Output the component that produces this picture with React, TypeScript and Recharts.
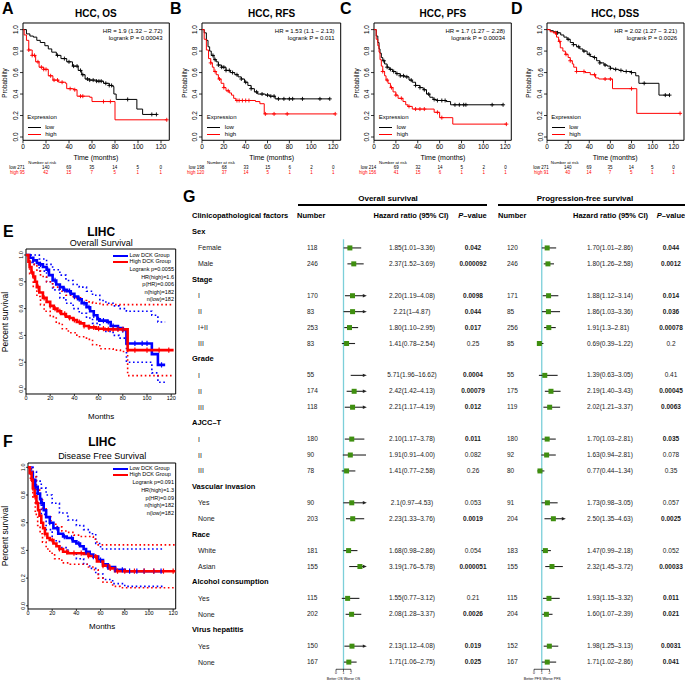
import React from "react";
import {
  ComposedChart,
  Line,
  ReferenceArea,
  ReferenceLine,
  Scatter,
  XAxis,
  YAxis,
} from "recharts";

const FONT = "'Liberation Sans', Arial, Helvetica, sans-serif";

// ---------- Kaplan-Meier curves, panels A-D: [months, probability] ----------
const kmOsLow = [[0, 1], [3, 0.96], [6, 0.94], [9, 0.93], [12, 0.9], [15, 0.88], [19, 0.85], [22, 0.82], [25, 0.79], [29, 0.76], [33, 0.73], [38, 0.7], [43, 0.66], [48, 0.62], [51, 0.58], [54, 0.54], [58, 0.53], [64, 0.52], [70, 0.5], [75, 0.48], [78, 0.47], [79, 0.4], [81, 0.35], [99, 0.26], [104, 0.21], [116, 0.21]];
const kmOsHigh = [[0, 1], [1, 0.95], [3, 0.9], [5, 0.81], [8, 0.76], [11, 0.7], [14, 0.65], [18, 0.63], [22, 0.57], [26, 0.53], [31, 0.51], [37, 0.5], [38, 0.45], [44, 0.44], [47, 0.38], [58, 0.37], [60, 0.33], [80, 0.16], [125, 0.16]];
const kmRfsLow = [[0, 1], [2, 0.97], [4, 0.9], [5.5, 0.84], [7, 0.8], [8.5, 0.76], [11, 0.72], [13, 0.7], [15, 0.67], [18, 0.65], [22, 0.62], [26, 0.6], [30, 0.58], [33, 0.56], [36, 0.54], [39, 0.51], [42, 0.48], [45, 0.45], [48, 0.42], [51, 0.4], [58, 0.39], [62, 0.38], [67, 0.355], [117, 0.355]];
const kmRfsHigh = [[0, 1], [2, 0.91], [4, 0.81], [6, 0.73], [8, 0.69], [9.5, 0.65], [11, 0.61], [13, 0.58], [15, 0.54], [17.5, 0.5], [20, 0.46], [22, 0.43], [25, 0.41], [27, 0.39], [29, 0.36], [31, 0.34], [49, 0.33], [53, 0.31], [57, 0.215], [122, 0.215]];
const kmPfsLow = [[0, 1], [2, 0.94], [3.5, 0.88], [4.6, 0.82], [5.5, 0.78], [6.7, 0.74], [8, 0.71], [9.7, 0.68], [12, 0.65], [14, 0.63], [17, 0.61], [20, 0.59], [24, 0.57], [28, 0.56], [32, 0.53], [35, 0.51], [38, 0.48], [42, 0.46], [45, 0.44], [48, 0.4], [51, 0.37], [54, 0.35], [57, 0.34], [66, 0.33], [70, 0.3], [118, 0.3]];
const kmPfsHigh = [[0, 1], [2, 0.91], [3.5, 0.85], [4.6, 0.79], [5.5, 0.72], [6.7, 0.66], [8, 0.61], [9.7, 0.57], [11, 0.53], [12.8, 0.5], [15, 0.46], [17.4, 0.42], [20, 0.39], [22, 0.36], [26.5, 0.33], [29, 0.3], [31, 0.285], [35, 0.26], [55, 0.23], [60, 0.18], [72, 0.12], [121, 0.12]];
const kmDssLow = [[0, 1], [3, 0.99], [6, 0.98], [10, 0.97], [13, 0.95], [16, 0.93], [19, 0.91], [22, 0.88], [25, 0.86], [28, 0.84], [31, 0.82], [34, 0.8], [38, 0.77], [41, 0.75], [44, 0.74], [47, 0.71], [50, 0.69], [54, 0.67], [57, 0.66], [60, 0.64], [63, 0.63], [68, 0.62], [72, 0.61], [80, 0.6], [84, 0.57], [87, 0.5], [106, 0.39], [116, 0.39]];
const kmDssHigh = [[0, 1], [3, 0.98], [6, 0.97], [9, 0.93], [11, 0.89], [12.6, 0.83], [15, 0.8], [17.4, 0.77], [20, 0.74], [22, 0.71], [24, 0.68], [25.3, 0.65], [28, 0.61], [36, 0.6], [41, 0.58], [46, 0.55], [49, 0.54], [62, 0.45], [85, 0.22], [126, 0.22]];

// censoring times (months)
const cenOsLow = [30, 36, 40, 44, 47, 50, 52, 56, 58, 61, 64, 66, 68, 72, 75, 77, 91, 112, 116];
const cenOsHigh = [5, 8, 10, 13, 16, 18, 20, 24, 27, 30, 34, 41, 45, 50, 52, 70, 76, 125];
const cenRfsLow = [10, 12, 15, 18, 20, 22, 25, 28, 32, 36, 40, 45, 50, 55, 60, 63, 66, 70, 75, 80, 83, 92, 108, 117];
const cenRfsHigh = [8, 12, 16, 20, 24, 32, 34, 37, 40, 43, 58, 66, 78, 122];
const cenPfsLow = [9, 12, 15, 18, 21, 24, 27, 30, 34, 38, 42, 46, 50, 55, 58, 62, 65, 74, 78, 82, 84, 108, 118];
const cenPfsHigh = [8, 12, 16, 20, 25, 32, 38, 42, 46, 58, 62, 121];
const cenDssLow = [10, 20, 25, 30, 35, 40, 45, 50, 55, 60, 65, 70, 75, 80, 92, 112, 116];
const cenDssHigh = [8, 12, 18, 22, 28, 35, 45, 55, 60, 80, 126];

// number at risk at 0, 20, ..., 120 months
const riskOsLow = [271, 140, 69, 35, 14, 5, 0];
const riskOsHigh = [95, 42, 15, 7, 5, 1, 1];
const riskRfsLow = [198, 68, 33, 15, 6, 2, 0];
const riskRfsHigh = [120, 37, 14, 5, 1, 1, 1];
const riskPfsLow = [214, 69, 32, 14, 5, 2, 0];
const riskPfsHigh = [156, 41, 15, 6, 1, 1, 1];
const riskDssLow = [271, 140, 69, 35, 14, 5, 0];
const riskDssHigh = [91, 40, 14, 7, 5, 1, 1];

// ---------- GEPIA curves, panels E and F ----------
const eLow = [[0, 1], [3, 0.98], [6, 0.96], [9, 0.94], [11, 0.93], [14, 0.91], [17, 0.89], [19, 0.85], [22, 0.81], [25, 0.78], [28, 0.76], [31, 0.74], [34, 0.73], [37, 0.71], [40, 0.69], [43, 0.67], [46, 0.64], [50, 0.61], [53, 0.58], [56, 0.55], [59, 0.52], [61, 0.51], [67, 0.5], [70, 0.47], [76, 0.455], [80, 0.44], [83, 0.34], [104, 0.26], [109, 0.18], [115, 0.18]];
const eLowUp = [[0, 1], [5, 1], [11, 0.97], [17, 0.93], [22, 0.89], [28, 0.85], [33, 0.81], [39, 0.78], [44, 0.76], [50, 0.73], [55, 0.7], [61, 0.66], [66, 0.64], [72, 0.62], [77, 0.6], [83, 0.58], [104, 0.55], [109, 0.5], [115, 0.5]];
const eLowLo = [[0, 1], [5, 0.93], [11, 0.88], [17, 0.8], [22, 0.74], [28, 0.68], [33, 0.64], [39, 0.6], [44, 0.565], [50, 0.53], [55, 0.49], [61, 0.45], [66, 0.43], [72, 0.4], [77, 0.38], [83, 0.2], [104, 0.12], [109, 0.05], [115, 0.05]];
const eHigh = [[0, 1], [2, 0.95], [3, 0.91], [4.5, 0.87], [6, 0.84], [7.5, 0.8], [9, 0.76], [11, 0.72], [14, 0.68], [17, 0.65], [20, 0.62], [23, 0.6], [26, 0.58], [29, 0.56], [33, 0.54], [36, 0.53], [39, 0.515], [42, 0.5], [45, 0.49], [48, 0.47], [52, 0.46], [58, 0.45], [65, 0.445], [84, 0.29], [122, 0.29]];
const eHighUp = [[0, 1], [3, 0.98], [6, 0.93], [9, 0.88], [12, 0.84], [17, 0.8], [22, 0.76], [28, 0.73], [33, 0.7], [39, 0.68], [45, 0.66], [50, 0.65], [55, 0.64], [61, 0.63], [122, 0.63]];
const eHighLo = [[0, 1], [3, 0.86], [6, 0.76], [9, 0.69], [12, 0.63], [15, 0.58], [20, 0.54], [25, 0.49], [30, 0.45], [35, 0.42], [42, 0.39], [50, 0.37], [55, 0.33], [61, 0.3], [72, 0.29], [78, 0.28], [84, 0.1], [122, 0.1]];
const fLow = [[0, 1], [2, 0.96], [4, 0.91], [6, 0.86], [8, 0.81], [10, 0.77], [11, 0.74], [13, 0.69], [15, 0.64], [18, 0.6], [21, 0.56], [25, 0.52], [29, 0.5], [32, 0.49], [37, 0.465], [40, 0.45], [43, 0.43], [46, 0.41], [48, 0.39], [51, 0.37], [54, 0.355], [58, 0.33], [62, 0.3], [66, 0.28], [72, 0.26], [80, 0.25], [112, 0.25]];
const fLowUp = [[0, 1], [4, 0.97], [7, 0.9], [11, 0.85], [15, 0.8], [20, 0.74], [26, 0.67], [33, 0.62], [40, 0.58], [46, 0.55], [51, 0.52], [56, 0.45], [60, 0.41], [112, 0.41]];
const fLowLo = [[0, 1], [4, 0.84], [7, 0.74], [11, 0.66], [15, 0.55], [20, 0.47], [26, 0.42], [33, 0.38], [40, 0.34], [46, 0.3], [51, 0.27], [56, 0.23], [62, 0.19], [70, 0.16], [80, 0.14], [112, 0.14]];
const fHigh = [[0, 1], [1.5, 0.96], [3, 0.91], [4, 0.85], [5.5, 0.79], [7, 0.74], [8.3, 0.69], [9.5, 0.65], [11, 0.6], [12.5, 0.56], [14, 0.52], [16, 0.49], [18, 0.475], [21, 0.45], [23.5, 0.43], [26, 0.41], [29, 0.39], [33, 0.38], [46, 0.375], [50, 0.36], [54, 0.355], [57, 0.32], [62, 0.29], [67, 0.27], [72, 0.25], [122, 0.25]];
const fHighUp = [[0, 1], [2, 0.99], [4, 0.93], [7, 0.84], [9.6, 0.78], [12, 0.7], [15, 0.64], [19, 0.6], [23, 0.57], [28, 0.54], [32, 0.53], [38, 0.51], [43, 0.5], [54, 0.48], [57, 0.44], [122, 0.44]];
const fHighLo = [[0, 1], [2, 0.9], [4, 0.78], [6, 0.66], [8, 0.58], [10, 0.52], [12, 0.46], [15, 0.41], [18, 0.38], [22, 0.34], [28, 0.31], [35, 0.3], [45, 0.3], [50, 0.28], [55, 0.26], [58, 0.2], [62, 0.17], [70, 0.14], [76, 0.13], [122, 0.13]];

const cenELow = [6, 12, 18, 24, 28, 32, 36, 40, 44, 48, 52, 56, 60, 64, 68, 72, 76, 80, 90, 96, 100, 112];
const cenEHigh = [5, 10, 15, 20, 24, 28, 32, 36, 40, 44, 48, 52, 56, 60, 64, 68, 72, 76, 80, 90, 100, 110, 118];
const cenFLow = [6, 12, 18, 24, 30, 36, 42, 48, 54, 60, 66, 72, 78, 84, 90, 96, 104, 110];
const cenFHigh = [4, 8, 14, 20, 26, 32, 38, 44, 50, 56, 62, 68, 74, 80, 88, 96, 104, 112, 120];

// ---------- Table G ----------
const groupNames = ["Sex", "Stage", "Grade", "AJCC–T", "Vascular invasion", "Race", "Alcohol consumption", "Virus hepatitis"];
const subgroupNames = [
  ["Female", "Male"],
  ["I", "II", "I+II", "III"],
  ["I", "II", "III"],
  ["I", "II", "III"],
  ["Yes", "None"],
  ["White", "Asian"],
  ["Yes", "None"],
  ["Yes", "None"],
];
const osNumber = [118, 246, 170, 83, 253, 83, 55, 174, 118, 180, 90, 78, 90, 203, 181, 155, 115, 202, 150, 167];
const osHR = [1.85, 2.37, 2.2, 2.21, 1.8, 1.41, 5.71, 2.42, 2.21, 2.1, 1.91, 1.41, 2.1, 2.23, 1.68, 3.19, 1.55, 2.08, 2.13, 1.71];
const osLow = [1.01, 1.52, 1.19, 1, 1.1, 0.78, 1.96, 1.42, 1.17, 1.17, 0.91, 0.77, 0.97, 1.33, 0.98, 1.76, 0.77, 1.28, 1.12, 1.06];
const osHigh = [3.36, 3.69, 4.08, 4.87, 2.95, 2.54, 16.62, 4.13, 4.19, 3.78, 4.0, 2.58, 4.53, 3.76, 2.86, 5.78, 3.12, 3.37, 4.08, 2.75];
const osHRText = ["1.85(1.01–3.36)", "2.37(1.52–3.69)", "2.20(1.19–4.08)", "2.21(1–4.87)", "1.80(1.10–2.95)", "1.41(0.78–2.54)", "5.71(1.96–16.62)", "2.42(1.42–4.13)", "2.21(1.17–4.19)", "2.10(1.17–3.78)", "1.91(0.91–4.00)", "1.41(0.77–2.58)", "2.1(0.97–4.53)", "2.23(1.33–3.76)", "1.68(0.98–2.86)", "3.19(1.76–5.78)", "1.55(0.77–3.12)", "2.08(1.28–3.37)", "2.13(1.12–4.08)", "1.71(1.06–2.75)"];
const osP = ["0.042", "0.000092", "0.0098", "0.044", "0.017", "0.25", "0.0004", "0.00079", "0.012", "0.011", "0.082", "0.26", "0.053", "0.0019", "0.054", "0.000051", "0.21", "0.0026", "0.019", "0.025"];
const pfsNumber = [120, 246, 171, 85, 256, 85, 55, 175, 119, 180, 92, 80, 91, 204, 183, 155, 115, 204, 152, 167];
const pfsHR = [1.7, 1.8, 1.88, 1.86, 1.91, 0.69, 1.39, 2.19, 2.02, 1.7, 1.63, 0.77, 1.73, 2.5, 1.47, 2.32, 1.93, 1.6, 1.98, 1.71];
const pfsLow = [1.01, 1.26, 1.12, 1.03, 1.3, 0.39, 0.63, 1.4, 1.21, 1.03, 0.94, 0.44, 0.98, 1.35, 0.99, 1.45, 1.15, 1.07, 1.25, 1.02];
const pfsHigh = [2.86, 2.58, 3.14, 3.36, 2.81, 1.22, 3.05, 3.43, 3.37, 2.81, 2.81, 1.34, 3.05, 4.63, 2.18, 3.72, 3.32, 2.39, 3.13, 2.86];
const pfsHRText = ["1.70(1.01–2.86)", "1.80(1.26–2.58)", "1.88(1.12–3.14)", "1.86(1.03–3.36)", "1.91(1.3–2.81)", "0.69(0.39–1.22)", "1.39(0.63–3.05)", "2.19(1.40–3.43)", "2.02(1.21–3.37)", "1.70(1.03–2.81)", "1.63(0.94–2.81)", "0.77(0.44–1.34)", "1.73(0.98–3.05)", "2.50(1.35–4.63)", "1.47(0.99–2.18)", "2.32(1.45–3.72)", "1.93(1.15–3.32)", "1.60(1.07–2.39)", "1.98(1.25–3.13)", "1.71(1.02–2.86)"];
const pfsP = ["0.044", "0.0012", "0.014", "0.036", "0.00078", "0.2", "0.41", "0.00045", "0.0063", "0.035", "0.078", "0.35", "0.057", "0.0025", "0.052", "0.00033", "0.011", "0.021", "0.0031", "0.041"];

const kmXTicks = [0, 20, 40, 60, 80, 100, 120];
const kmYTicks = [0, 0.2, 0.4, 0.6, 0.8, 1];

// ---------- helpers ----------
type Curve = { pts: number[][]; color: string; width: number; dash?: string; censor?: number[] };

const toRows = (pts: number[][]) => pts.map(([t, s]) => ({ t, s }));

function survivalAt(pts: number[][], t: number) {
  let s = pts[0][1];
  for (const [pt, ps] of pts) if (pt <= t) s = ps;
  return s;
}

const plusMark = (color: string) => (p: any) => (
  <path d={`M${p.cx - 2},${p.cy}H${p.cx + 2}M${p.cx},${p.cy - 2}V${p.cy + 2}`} stroke={color} strokeWidth={0.9} fill="none" />
);
const tickMark = (color: string) => (p: any) => (
  <path d={`M${p.cx},${p.cy - 2.6}V${p.cy + 2.6}`} stroke={color} strokeWidth={1.2} fill="none" />
);

function RotatedTick(props: any) {
  const { x, y, payload, size } = props;
  return (
    <text x={x} y={y} transform={`rotate(-90 ${x} ${y})`} textAnchor="middle" fontSize={size} fontFamily={FONT} fill="#000">
      {Number(payload.value).toFixed(1)}
    </text>
  );
}

function Txt({ x, y, size, bold, italic, anchor = "start", rotate, color = "#000", children }: any) {
  const tx = anchor === "middle" ? "-50%" : anchor === "end" ? "-100%" : "0";
  return (
    <div
      style={{
        position: "absolute",
        left: x,
        top: y,
        fontSize: size,
        lineHeight: 1,
        fontWeight: bold ? 700 : 400,
        fontStyle: italic ? "italic" : "normal",
        color,
        whiteSpace: "nowrap",
        transform: rotate ? "translate(-50%, -50%) rotate(-90deg)" : `translate(${tx}, -50%)`,
      }}
    >
      {children}
    </div>
  );
}

function Swatch({ x, y, w, h, color }: any) {
  return <div style={{ position: "absolute", left: x, top: y - h / 2, width: w, height: h, background: color }} />;
}

function KmChart({ x, y, w, h, xMax, yMin, yMax, curves, mark, tickFont, tickLen, tickGap }: any) {
  const padL = 26, padT = 4, padR = 6, padB = 16, yAxisW = 14;
  return (
    <div style={{ position: "absolute", left: x - padL, top: y - padT }}>
      <ComposedChart
        width={w + padL + padR}
        height={h + padT + padB}
        margin={{ top: padT, right: padR, bottom: 0, left: padL - yAxisW }}
        style={{ fontFamily: FONT }}
      >
        <XAxis
          type="number"
          dataKey="t"
          domain={[0, xMax]}
          ticks={kmXTicks}
          interval={0}
          allowDataOverflow
          axisLine={false}
          tickLine={{ stroke: "#000", strokeWidth: 0.8 }}
          tickSize={tickLen}
          tickMargin={tickGap}
          height={padB}
          tick={{ fontSize: tickFont, fill: "#000", fontFamily: FONT }}
        />
        <YAxis
          type="number"
          dataKey="s"
          domain={[yMin, yMax]}
          ticks={kmYTicks}
          interval={0}
          allowDataOverflow
          axisLine={false}
          tickLine={{ stroke: "#000", strokeWidth: 0.8 }}
          tickSize={tickLen}
          tickMargin={tickGap}
          width={yAxisW}
          tick={(p: any) => <RotatedTick {...p} size={tickFont} />}
        />
        <ReferenceArea x1={0} x2={xMax} y1={yMin} y2={yMax} fill="none" stroke="#000" strokeWidth={1} ifOverflow="visible" />
        {curves.map((c: Curve, i: number) => (
          <Line
            key={`l${i}`}
            data={toRows(c.pts)}
            dataKey="s"
            type="stepAfter"
            stroke={c.color}
            strokeWidth={c.width}
            strokeDasharray={c.dash}
            dot={false}
            activeDot={false}
            isAnimationActive={false}
          />
        ))}
        {curves
          .filter((c: Curve) => c.censor)
          .map((c: Curve, i: number) => (
            <Scatter
              key={`c${i}`}
              data={c.censor!.map((t) => ({ t, s: survivalAt(c.pts, t) }))}
              dataKey="s"
              shape={mark === "plus" ? plusMark(c.color) : tickMark(c.color)}
              isAnimationActive={false}
            />
          ))}
      </ComposedChart>
    </div>
  );
}

// ---------- panels A-D ----------
const KM_TOP = 22.7;
const KM_H = 117.3;
const KM_YMIN = -0.0307;
const KM_YMAX = 1.0615;

const kmPanels = [
  { letter: "A", letterX: 2, title: "HCC, OS", x: 22.7, w: 146.3, xMax: 127.2, low: kmOsLow, high: kmOsHigh, cLow: cenOsLow, cHigh: cenOsHigh, hr: "HR = 1.9 (1.32 − 2.72)", p: "logrank P = 0.00043", rLow: riskOsLow, rHigh: riskOsHigh },
  { letter: "B", letterX: 170, title: "HCC, RFS", x: 202.3, w: 138.7, xMax: 127, low: kmRfsLow, high: kmRfsHigh, cLow: cenRfsLow, cHigh: cenRfsHigh, hr: "HR = 1.53 (1.1 − 2.13)", p: "logrank P = 0.011", rLow: riskRfsLow, rHigh: riskRfsHigh },
  { letter: "C", letterX: 340, title: "HCC, PFS", x: 374.3, w: 137.3, xMax: 125.5, low: kmPfsLow, high: kmPfsHigh, cLow: cenPfsLow, cHigh: cenPfsHigh, hr: "HR = 1.7 (1.27 − 2.28)", p: "logrank P = 0.00034", rLow: riskPfsLow, rHigh: riskPfsHigh },
  { letter: "D", letterX: 511, title: "HCC, DSS", x: 546.7, w: 137, xMax: 129.7, low: kmDssLow, high: kmDssHigh, cLow: cenDssLow, cHigh: cenDssHigh, hr: "HR = 2.02 (1.27 − 3.21)", p: "logrank P = 0.0026", rLow: riskDssLow, rHigh: riskDssHigh },
];

function KmPanel({ p }: any) {
  const xAt = (t: number) => p.x + (t * p.w) / p.xMax;
  const curves: Curve[] = [
    { pts: p.low, color: "#000", width: 1, censor: p.cLow },
    { pts: p.high, color: "#ff0000", width: 1, censor: p.cHigh },
  ];
  return (
    <>
      <Txt x={p.letterX} y={9} size={16} bold>{p.letter}</Txt>
      <Txt x={p.x + p.w / 2} y={14} size={10} bold anchor="middle">{p.title}</Txt>
      <KmChart x={p.x} y={KM_TOP} w={p.w} h={KM_H} xMax={p.xMax} yMin={KM_YMIN} yMax={KM_YMAX} curves={curves} mark="plus" tickFont={6.5} tickLen={3} tickGap={1.5} />
      <Txt x={p.x + p.w - 6.5} y={31} size={6} anchor="end">{p.hr}</Txt>
      <Txt x={p.x + p.w - 6.5} y={38.3} size={6} anchor="end">{p.p}</Txt>
      <Txt x={p.x - 17.7} y={83} size={6.3} anchor="middle" rotate>Probability</Txt>
      <Txt x={p.x + p.w / 2} y={157} size={7} anchor="middle">Time (months)</Txt>
      <Txt x={p.x + 4.5} y={117.3} size={6}>Expression</Txt>
      <Swatch x={p.x + 5} y={127} w={13} h={1} color="#000" />
      <Swatch x={p.x + 5} y={134} w={13} h={1} color="#ff0000" />
      <Txt x={p.x + 22.5} y={127} size={6}>low</Txt>
      <Txt x={p.x + 22.5} y={134} size={6}>high</Txt>
      <Txt x={xAt(17)} y={162.7} size={4.3} anchor="middle">Number at risk</Txt>
      {p.rLow.map((v: number, i: number) =>
        i === 0 ? (
          <Txt key={`rl${i}`} x={xAt(0) + 2} y={167.5} size={4.5} anchor="end">{`low ${v}`}</Txt>
        ) : (
          <Txt key={`rl${i}`} x={xAt(kmXTicks[i])} y={167.5} size={4.5} anchor="middle">{v}</Txt>
        )
      )}
      {p.rHigh.map((v: number, i: number) =>
        i === 0 ? (
          <Txt key={`rh${i}`} x={xAt(0) + 2} y={172.7} size={4.5} anchor="end" color="#ff0000">{`high ${v}`}</Txt>
        ) : (
          <Txt key={`rh${i}`} x={xAt(kmXTicks[i])} y={172.7} size={4.5} anchor="middle" color="#ff0000">{v}</Txt>
        )
      )}
    </>
  );
}

// ---------- panels E, F ----------
const BLUE = "#0000ff";
const RED = "#ff0000";

const gepiaPanels = [
  {
    letter: "E", sub: "Overall Survival", x: 26.3, y: 249, w: 149.7, h: 145, xMax: 123.7, yMin: -0.0373, yMax: 1.0448,
    titleY: 231.7, subY: 242.7, monthsY: 417, legendY: 256, statsY: 270, step: 7.5,
    stats: ["Logrank p=0.0055", "HR(high)=1.6", "p(HR)=0.006", "n(high)=182", "n(low)=182"],
    curves: [
      { pts: eLowUp, color: BLUE, width: 1.6, dash: "1.6 2.6" },
      { pts: eLowLo, color: BLUE, width: 1.6, dash: "1.6 2.6" },
      { pts: eHighUp, color: RED, width: 1.6, dash: "1.6 2.6" },
      { pts: eHighLo, color: RED, width: 1.6, dash: "1.6 2.6" },
      { pts: eLow, color: BLUE, width: 2.6, censor: cenELow },
      { pts: eHigh, color: RED, width: 2.6, censor: cenEHigh },
    ],
  },
  {
    letter: "F", sub: "Disease Free Survival", x: 28.3, y: 463, w: 147.7, h: 146, xMax: 122.1, yMin: -0.023, yMax: 1.031,
    titleY: 441.7, subY: 456, monthsY: 627, legendY: 469, statsY: 483.3, step: 7.7,
    stats: ["Logrank p=0.091", "HR(high)=1.3", "p(HR)=0.09", "n(high)=182", "n(low)=182"],
    curves: [
      { pts: fLowUp, color: BLUE, width: 1.6, dash: "1.6 2.6" },
      { pts: fLowLo, color: BLUE, width: 1.6, dash: "1.6 2.6" },
      { pts: fHighUp, color: RED, width: 1.6, dash: "1.6 2.6" },
      { pts: fHighLo, color: RED, width: 1.6, dash: "1.6 2.6" },
      { pts: fLow, color: BLUE, width: 2.6, censor: cenFLow },
      { pts: fHigh, color: RED, width: 2.6, censor: cenFHigh },
    ],
  },
];

function GepiaPanel({ p }: any) {
  const cx = p.x + p.w / 2;
  return (
    <>
      <Txt x={3} y={p.titleY} size={16} bold>{p.letter}</Txt>
      <Txt x={cx} y={p.titleY} size={12} bold anchor="middle">LIHC</Txt>
      <Txt x={cx} y={p.subY} size={9} anchor="middle">{p.sub}</Txt>
      <KmChart x={p.x} y={p.y} w={p.w} h={p.h} xMax={p.xMax} yMin={p.yMin} yMax={p.yMax} curves={p.curves} mark="tick" tickFont={5.5} tickLen={2} tickGap={0.5} />
      <Txt x={4.5} y={p.y + p.h / 2} size={8.5} anchor="middle" rotate>Percent survival</Txt>
      <Txt x={cx} y={p.monthsY} size={8} anchor="middle">Months</Txt>
      <Swatch x={113} y={p.legendY} w={15} h={2.6} color={BLUE} />
      <Swatch x={113} y={p.legendY + 5.8} w={15} h={2.6} color={RED} />
      <Txt x={129.5} y={p.legendY} size={5.5}>Low DCK Group</Txt>
      <Txt x={129.5} y={p.legendY + 5.8} size={5.5}>High DCK Group</Txt>
      {p.stats.map((s: string, i: number) => (
        <Txt key={s} x={174} y={p.statsY + i * p.step} size={5.5} anchor="end">{s}</Txt>
      ))}
    </>
  );
}

// ---------- forest plots in G ----------
const TABLE_TOP = 232;
const ROW_H = 15.93;
const Y_END = 27.45;

const rowOfGroup: number[] = [];
const rowOfItem: number[] = [];
{
  let r = 0;
  subgroupNames.forEach((items) => {
    rowOfGroup.push(r++);
    items.forEach(() => rowOfItem.push(r++));
  });
}
const itemLabels = subgroupNames.flat();
const rowY = (r: number) => TABLE_TOP + r * ROW_H;

const ciShape = (arrow: boolean) => (p: any) => (
  <g>
    <line x1={p.x1} y1={p.y1} x2={arrow ? p.x2 - 2 : p.x2} y2={p.y2} stroke="#222" strokeWidth={1.1} />
    {arrow && <polygon points={`${p.x2 + 0.8},${p.y2} ${p.x2 - 3.2},${p.y2 - 1.7} ${p.x2 - 3.2},${p.y2 + 1.7}`} fill="#222" />}
  </g>
);
const squareMark = (p: any) => <rect x={p.cx - 2.5} y={p.cy - 2.5} width={5} height={5} fill="#3f8f10" />;

function Forest({ left, plotW, hr, lo, hi }: any) {
  const padL = 12, padR = 20, padT = 8, axisH = 12;
  const plotH = ROW_H * Y_END;
  const marks = rowOfItem.map((r, i) => ({ x: hr[i], y: r })).filter((d) => d.x <= 4);
  return (
    <div style={{ position: "absolute", left: left - padL, top: TABLE_TOP - padT }}>
      <ComposedChart width={padL + plotW + padR} height={padT + plotH + axisH} margin={{ top: padT, right: padR, left: padL, bottom: 0 }} style={{ fontFamily: FONT }}>
        <XAxis
          type="number"
          dataKey="x"
          domain={[0, 4]}
          ticks={[0, 1, 2]}
          interval={0}
          allowDataOverflow
          axisLine={false}
          tickSize={2}
          tickMargin={0.5}
          height={axisH}
          tickLine={{ stroke: "#000", strokeWidth: 0.6 }}
          tick={{ fontSize: 3.5, fill: "#000", fontFamily: FONT }}
        />
        <YAxis type="number" dataKey="y" domain={[0, Y_END]} reversed hide allowDataOverflow />
        <ReferenceLine segment={[{ x: 1, y: 0.45 }, { x: 1, y: Y_END }]} stroke="#7ccfd9" strokeWidth={1.3} ifOverflow="visible" />
        <ReferenceLine segment={[{ x: 0, y: Y_END }, { x: 2, y: Y_END }]} stroke="#000" strokeWidth={0.7} ifOverflow="visible" />
        {rowOfItem.map((r, i) => (
          <ReferenceLine
            key={`ci${i}`}
            segment={[{ x: Math.max(lo[i], 0), y: r }, { x: Math.min(hi[i], 4), y: r }]}
            ifOverflow="visible"
            shape={ciShape(hi[i] > 4)}
          />
        ))}
        <Scatter data={marks} dataKey="y" shape={squareMark} isAnimationActive={false} />
      </ComposedChart>
    </div>
  );
}

// subgroup labels drawn as svg text
function ItemLabels() {
  return (
    <svg width={685} height={683} style={{ position: "absolute", left: 0, top: 0, pointerEvents: "none" }}>
      {rowOfItem.map((r, i) => (
        <text key={i} x={198} y={rowY(r) + 2.5} fontSize={7} fontFamily={FONT} fill="#1a1a1a">
          {itemLabels[i]}
        </text>
      ))}
    </svg>
  );
}

function TableG() {
  const dark = "#1a1a1a";
  return (
    <>
      <Txt x={183} y={197} size={16} bold>G</Txt>
      <Txt x={388} y={199} size={8} bold anchor="middle">Overall survival</Txt>
      <Txt x={585} y={199} size={8} bold anchor="middle">Progression-free survival</Txt>
      <Swatch x={298} y={205} w={189} h={1.1} color="#000" />
      <Swatch x={498} y={205} w={187} h={1.1} color="#000" />
      <Txt x={192} y={216} size={7.5} bold>Clinicopathological factors</Txt>
      <Txt x={297} y={216} size={7.5} bold>Number</Txt>
      <Txt x={411} y={216} size={7.5} bold anchor="middle">Hazard ratio (95% CI)</Txt>
      <Txt x={472.5} y={216} size={7.5} bold anchor="middle"><i>P</i>–value</Txt>
      <Txt x={498} y={216} size={7.5} bold>Number</Txt>
      <Txt x={610.5} y={216} size={7.5} bold anchor="middle">Hazard ratio (95% CI)</Txt>
      <Txt x={671} y={216} size={7.5} bold anchor="middle"><i>P</i>–value</Txt>

      {groupNames.map((g, i) => (
        <Txt key={`g${i}`} x={192} y={rowY(rowOfGroup[i])} size={7.5} bold>{g}</Txt>
      ))}
      <ItemLabels />
      {rowOfItem.map((r, i) => (
        <React.Fragment key={`r${i}`}>
          <Txt x={307} y={rowY(r)} size={6.5} color={dark}>{osNumber[i]}</Txt>
          <Txt x={412} y={rowY(r)} size={6.5} anchor="middle" color={dark}>{osHRText[i]}</Txt>
          <Txt x={473} y={rowY(r)} size={6.5} anchor="middle" bold={parseFloat(osP[i]) < 0.05} color={dark}>{osP[i]}</Txt>
          <Txt x={507} y={rowY(r)} size={6.5} color={dark}>{pfsNumber[i]}</Txt>
          <Txt x={587} y={rowY(r)} size={6.5} color={dark}>{pfsHRText[i]}</Txt>
          <Txt x={671} y={rowY(r)} size={6.5} anchor="middle" bold={parseFloat(pfsP[i]) < 0.05} color={dark}>{pfsP[i]}</Txt>
        </React.Fragment>
      ))}

      <Forest left={336} plotW={30} hr={osHR} lo={osLow} hi={osHigh} />
      <Forest left={534.3} plotW={31} hr={pfsHR} lo={pfsLow} hi={pfsHigh} />
      <Txt x={343.5} y={679.5} size={3.6} anchor="middle">Better OS Worse OS</Txt>
      <Txt x={542.3} y={679.5} size={3.6} anchor="middle">Better PFS Worse PFS</Txt>
    </>
  );
}

export default function App() {
  return (
    <div
      style={{
        position: "absolute",
        left: 0,
        top: 0,
        width: 685,
        height: 683,
        overflow: "hidden",
        background: "#fff",
        fontFamily: FONT,
        color: "#000",
      }}
    >
      {kmPanels.map((p) => (
        <KmPanel key={p.letter} p={p} />
      ))}
      {gepiaPanels.map((p) => (
        <GepiaPanel key={p.letter} p={p} />
      ))}
      <TableG />
    </div>
  );
}
